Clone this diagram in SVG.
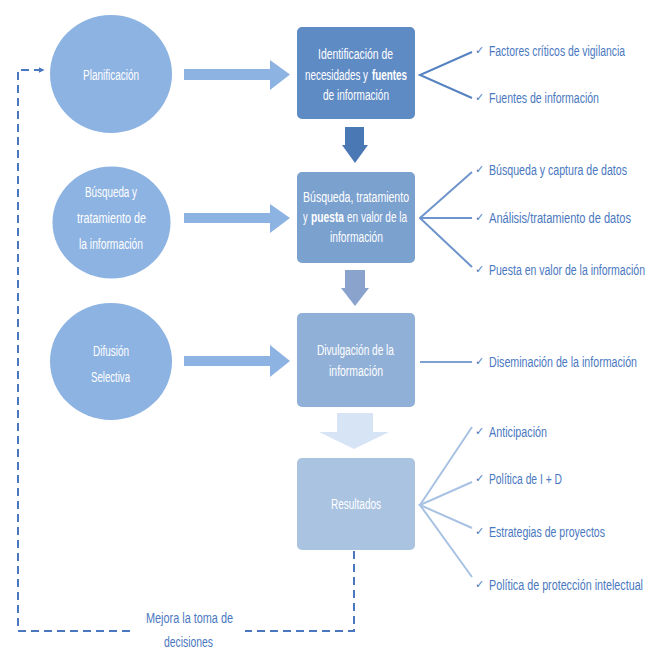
<svg xmlns="http://www.w3.org/2000/svg" width="647" height="648" viewBox="0 0 647 648">
<defs>
<style>
.circ{fill:#8db3e2}
.wt{font-family:"Liberation Sans","DejaVu Sans",sans-serif;font-size:15.5px;fill:#ffffff;text-anchor:middle}
.ws{font-family:"Liberation Sans","DejaVu Sans",sans-serif;font-size:15.5px;fill:#ffffff}
.wb{font-weight:bold}
.bl{font-family:"Liberation Sans","DejaVu Sans",sans-serif;font-size:15.5px;fill:#4a78c0}
.ck{font-family:"DejaVu Sans",sans-serif;font-size:11px;fill:#4a78c0}
.harrow{fill:#8db3e2}
.br{fill:none;stroke-width:2}
.dash{fill:none;stroke:#4a78c0;stroke-width:2;stroke-dasharray:8 5}
</style>
<marker id="ah2" viewBox="0 0 10 10" refX="9" refY="5" markerWidth="6" markerHeight="6" orient="auto" markerUnits="userSpaceOnUse">
<path d="M0,0 L10,5 L0,10 z" fill="#4a78c0"/>
</marker>
</defs>
<rect width="647" height="648" fill="#ffffff"/>

<g id="connectors">
<polygon class="harrow" points="184,69 270,69 270,60 290,74.5 270,90 270,80 184,80"/>
<polygon class="harrow" points="184,213 270,213 270,204 290,218 270,233 270,223 184,223"/>
<polygon class="harrow" points="184,356 270,356 270,345 290,361 270,377 270,366 184,366"/>
<polygon fill="#4a78b5" points="345,127 364,127 364,145 368,145 355,163 342,145 345,145"/>
<polygon fill="#8aa3cc" points="345,270 365,270 365,288 369,288 355,306 341,288 345,288"/>
<polygon fill="#d7e4f6" points="337,413 373,413 373,432 389,432 354,449 319,432 337,432"/>
<polyline class="br" stroke="#5582c0" points="472,52 420,75 472,98"/>
<polyline class="br" stroke="#6e95cb" points="472,172 420,218 472,267"/>
<line class="br" stroke="#6e95cb" x1="420" y1="218" x2="472" y2="218"/>
<line class="br" stroke="#7ea1d1" x1="420" y1="362" x2="472" y2="362"/>
<polyline class="br" stroke="#a8c2e3" points="472,427 420,505 472,577"/>
<polyline class="br" stroke="#a8c2e3" points="472,482 420,505 472,528"/>
<polyline class="dash" points="354,551 354,631 245,631"/>
<polyline class="dash" points="130,631 18,631 18,70 44,70" marker-end="url(#ah2)"/>
<text class="bl" transform="translate(189.5,623) scale(0.6,1)" text-anchor="middle" textLength="145" lengthAdjust="spacingAndGlyphs">Mejora la toma de</text>
<text class="bl" transform="translate(188.5,647) scale(0.6,1)" text-anchor="middle" textLength="81.7" lengthAdjust="spacingAndGlyphs">decisiones</text>
</g>

<g id="planificacion">
<ellipse class="circ" cx="111" cy="74" rx="61" ry="59"/>
<text class="wt" transform="translate(111,80) scale(0.6,1)" textLength="93.3" lengthAdjust="spacingAndGlyphs">Planificación</text>
</g>
<g id="busqueda-circle">
<ellipse class="circ" cx="111.5" cy="222.5" rx="59" ry="56"/>
<text class="wt" transform="translate(111,197) scale(0.6,1)" textLength="86.7" lengthAdjust="spacingAndGlyphs">Búsqueda y</text>
<text class="wt" transform="translate(111.5,223) scale(0.6,1)" textLength="115" lengthAdjust="spacingAndGlyphs">tratamiento de</text>
<text class="wt" transform="translate(111,249) scale(0.6,1)" textLength="106.7" lengthAdjust="spacingAndGlyphs">la información</text>
</g>
<g id="difusion">
<ellipse class="circ" cx="111" cy="361.5" rx="61" ry="58.5"/>
<text class="wt" transform="translate(111,356) scale(0.6,1)" textLength="60" lengthAdjust="spacingAndGlyphs">Difusión</text>
<text class="wt" transform="translate(110.5,382) scale(0.6,1)" textLength="65" lengthAdjust="spacingAndGlyphs">Selectiva</text>
</g>

<g id="identificacion">
<rect x="297" y="27" width="118" height="92" rx="5" fill="#5f8bc5"/>
<text class="wt" transform="translate(355.5,59) scale(0.6,1)" textLength="125" lengthAdjust="spacingAndGlyphs">Identificación de</text>
<text class="ws" transform="translate(305,80) scale(0.6,1)" textLength="105" lengthAdjust="spacingAndGlyphs">necesidades y</text>
<text class="ws wb" transform="translate(372,80) scale(0.6,1)" textLength="58.3" lengthAdjust="spacingAndGlyphs">fuentes</text>
<text class="wt" transform="translate(356,100) scale(0.6,1)" textLength="110" lengthAdjust="spacingAndGlyphs">de información</text>
</g>
<g id="busqueda-box">
<rect x="297" y="172" width="118" height="91" rx="5" fill="#7ba1cf"/>
<text class="wt" transform="translate(356,202) scale(0.6,1)" textLength="176.7" lengthAdjust="spacingAndGlyphs">Búsqueda, tratamiento</text>
<text class="ws" transform="translate(303,222) scale(0.6,1)">y</text>
<text class="ws wb" transform="translate(311,222) scale(0.6,1)" textLength="55" lengthAdjust="spacingAndGlyphs">puesta</text>
<text class="ws" transform="translate(347,222) scale(0.6,1)" textLength="100" lengthAdjust="spacingAndGlyphs">en valor de la</text>
<text class="wt" transform="translate(356.5,242) scale(0.6,1)" textLength="88.3" lengthAdjust="spacingAndGlyphs">información</text>
</g>
<g id="divulgacion">
<rect x="297" y="313" width="118" height="94" rx="5" fill="#91b0d7"/>
<text class="wt" transform="translate(355.5,355) scale(0.6,1)" textLength="128.3" lengthAdjust="spacingAndGlyphs">Divulgación de la</text>
<text class="wt" transform="translate(356,376) scale(0.6,1)" textLength="90" lengthAdjust="spacingAndGlyphs">información</text>
</g>
<g id="resultados">
<rect x="297" y="458" width="118" height="92" rx="5" fill="#a9c3e1"/>
<text class="wt" transform="translate(356,509) scale(0.6,1)" textLength="83.3" lengthAdjust="spacingAndGlyphs">Resultados</text>
</g>

<g id="items1">
<text class="ck" x="475" y="54">✓</text>
<text class="bl" transform="translate(489,56) scale(0.6,1)" textLength="226.7" lengthAdjust="spacingAndGlyphs">Factores críticos de vigilancia</text>
<text class="ck" x="475" y="101">✓</text>
<text class="bl" transform="translate(489,103) scale(0.6,1)" textLength="183.3" lengthAdjust="spacingAndGlyphs">Fuentes de información</text>
</g>
<g id="items2">
<text class="ck" x="475" y="173">✓</text>
<text class="bl" transform="translate(489,175) scale(0.6,1)" textLength="230" lengthAdjust="spacingAndGlyphs">Búsqueda y captura de datos</text>
<text class="ck" x="475" y="221">✓</text>
<text class="bl" transform="translate(489,223) scale(0.6,1)" textLength="236.7" lengthAdjust="spacingAndGlyphs">Análisis/tratamiento de datos</text>
<text class="ck" x="475" y="273">✓</text>
<text class="bl" transform="translate(489,275) scale(0.6,1)" textLength="260" lengthAdjust="spacingAndGlyphs">Puesta en valor de la información</text>
</g>
<g id="items3">
<text class="ck" x="475" y="365">✓</text>
<text class="bl" transform="translate(489,367) scale(0.6,1)" textLength="246.7" lengthAdjust="spacingAndGlyphs">Diseminación de la información</text>
</g>
<g id="items4">
<text class="ck" x="475" y="435">✓</text>
<text class="bl" transform="translate(489,437) scale(0.6,1)" textLength="96.7" lengthAdjust="spacingAndGlyphs">Anticipación</text>
<text class="ck" x="475" y="482">✓</text>
<text class="bl" transform="translate(489,484) scale(0.6,1)" textLength="121.7" lengthAdjust="spacingAndGlyphs">Política de I + D</text>
<text class="ck" x="475" y="535">✓</text>
<text class="bl" transform="translate(489,537) scale(0.6,1)" textLength="193.3" lengthAdjust="spacingAndGlyphs">Estrategias de proyectos</text>
<text class="ck" x="475" y="588">✓</text>
<text class="bl" transform="translate(489,590) scale(0.6,1)" textLength="256.7" lengthAdjust="spacingAndGlyphs">Política de protección intelectual</text>
</g>
</svg>
